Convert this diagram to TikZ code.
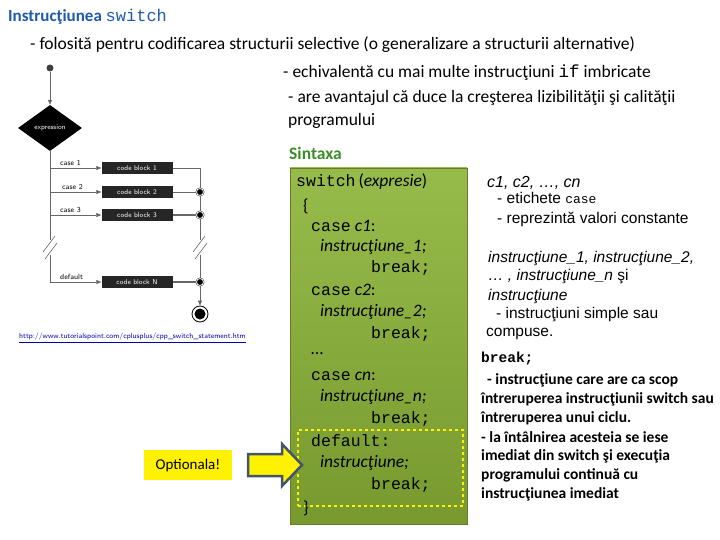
\documentclass[tikz,border=0pt]{standalone}
\usepackage{fontspec}
\setmainfont{Carlito}
\newfontfamily\codef{Liberation Mono}
\newfontfamily\rsans{Liberation Sans}
\usetikzlibrary{shapes.geometric,shapes.arrows,arrows.meta}
\definecolor{titleblue}{RGB}{31,90,170}
\definecolor{sgreen}{RGB}{60,140,40}
\definecolor{olive}{RGB}{140,180,55}
\definecolor{arrowedge}{RGB}{68,84,106}
\begin{document}
\begin{tikzpicture}[x=1pt,y=-1pt,
  txt/.style={anchor=west,inner sep=0pt,font=\fontsize{17.5}{20}\selectfont},
  code/.style={anchor=west,inner sep=0pt,font=\fontsize{17.5}{20}\selectfont},
  rt/.style={anchor=west,inner sep=0pt,font=\rsans\fontsize{15.5}{18}\selectfont},
  bt/.style={anchor=west,inner sep=0pt,font=\bfseries\fontsize{15.5}{18}\selectfont},
  cb/.style={fill=black!85,text=white,minimum width=71pt,minimum height=12pt,inner sep=0pt,font=\sffamily\fontsize{7}{8}\selectfont},
  lab/.style={inner sep=0pt,font=\sffamily\fontsize{7.5}{8}\selectfont,anchor=south west},
  fl/.style={draw=black!60,line width=0.6pt},
  fa/.style={fl,-{Triangle[length=5pt,width=4pt]}},
  jn/.style={circle,fill=black,draw=black,double=white,double distance=0.8pt,minimum size=7pt,inner sep=0pt}]
\useasboundingbox (0,0) rectangle (720,540);
% title
\node[anchor=west,inner sep=0pt,text=titleblue,font=\bfseries\fontsize{17}{20}\selectfont] (title) at (8,17) {Instruc\c{t}iunea {\codef\mdseries switch}};
\node[txt] (l1) at (30,45) {- folosită pentru codificarea structurii selective (o generalizare a structurii alternative)};
\node[txt] (l2) at (283,73) {- echivalentă cu mai multe instrucţiuni {\codef if} imbricate};
\node[txt] (l3) at (288,98) {- are avantajul că duce la creşterea lizibilităţii şi calităţii};
\node[txt] (l4) at (288,121) {programului};
\node[anchor=west,inner sep=0pt,text=sgreen,font=\bfseries\fontsize{17.5}{20}\selectfont] (sin) at (289,153) {Sintaxa};
% flowchart
\node[circle,fill=black!75,minimum size=7pt,inner sep=0pt] (start) at (50,68) {};
\node[diamond,fill=black,text=white,minimum width=64pt,minimum height=46pt,inner sep=0pt,font=\sffamily\fontsize{7}{8}\selectfont] (expr) at (50,128) {expression};
\draw[fa] (start) -- (expr.north);
\node[cb] (b1) at (137,168) {code block 1};
\node[cb] (b2) at (137,192) {code block 2};
\node[cb] (b3) at (137,215) {code block 3};
\node[cb] (bn) at (137,282) {code block N};
\coordinate (v1) at (50,168);\coordinate (v2) at (50,192);\coordinate (v3) at (50,215);\coordinate (vn) at (50,282);
\coordinate (vb1) at (50,240);\coordinate (vb2) at (50,255);
\draw[fl] (expr.south) -- (vb1);
\draw[fl] (vb2) -- (vn);
\draw[fl] (43,252) -- (55,236) (45,259) -- (57,243);
\draw[fa] (v1) -- (b1.west);
\draw[fa] (v2) -- (b2.west);
\draw[fa] (v3) -- (b3.west);
\draw[fa] (vn) -- (bn.west);
\node[lab] at (60,166) {case 1};
\node[lab] at (62,190) {case 2};
\node[lab] at (60,213) {case 3};
\node[lab] at (60,280) {default};
\node[jn] (j2) at (200,192) {};
\node[jn] (j3) at (200,215) {};
\node[jn] (jn) at (200,282) {};
\coordinate (r1) at (200,168);
\coordinate (rb1) at (200,240);\coordinate (rb2) at (200,255);
\draw[fl] (b1.east) -- (r1) -- (j2) -- (j3) -- (rb1);
\draw[fl] (b2.east) -- (j2);
\draw[fl,line width=1.2pt] (b3.east) -- (j3);
\draw[fl,line width=1.2pt] (bn.east) -- (jn);
\draw[fl] (rb2) -- (jn);
\draw[fl] (193,252) -- (205,236) (195,259) -- (207,243);
\node[circle,draw=black,line width=0.8pt,minimum size=16pt,inner sep=0pt] (end) at (200,314) {};
\fill[black] (end.center) circle (5.5pt);
\draw[fa] (jn) -- (end.north);
\node[anchor=west,inner sep=0pt,text=blue!70!black,font=\sffamily\fontsize{7.3}{8}\selectfont] (url) at (19,338) {\underline{http://www.tutorialspoint.com/cplusplus/cpp\_switch\_statement.htm}};
% green box
\shade[top color=olive!90!white,bottom color=olive!85!black,draw=olive!70!black] (290,168) rectangle (467,524);
\node[draw=yellow,dashed,line width=1.5pt,minimum width=165pt,minimum height=76pt,inner sep=0pt] (dflt) at (380.5,468) {};
\node[code] (c1) at (296,182) {{\codef\fontsize{16.5}{20}\selectfont switch}\,(\textit{expresie})};
\node[code] (c2) at (303,206) {\{};
\node[code] (c3) at (311,226) {{\codef\fontsize{16.5}{20}\selectfont case} \textit{c1}:};
\node[code] (c4) at (320,247) {\textit{instrucţiune\_1;}};
\node[code] (c5) at (371,268) {{\codef\fontsize{16.5}{20}\selectfont break;}};
\node[code] (c6) at (311,290) {{\codef\fontsize{16.5}{20}\selectfont case} \textit{c2}:};
\node[code] (c7) at (320,312) {\textit{instrucţiune\_2;}};
\node[code] (c8) at (371,334) {{\codef\fontsize{16.5}{20}\selectfont break;}};
\node[code] (c9) at (311,354) {\ldots};
\node[code] (c10) at (311,376) {{\codef\fontsize{16.5}{20}\selectfont case} \textit{cn}:};
\node[code] (c11) at (320,397) {\textit{instrucţiune\_n;}};
\node[code] (c12) at (371,419) {{\codef\fontsize{16.5}{20}\selectfont break;}};
\node[code] (c13) at (311,441) {{\codef\fontsize{16.5}{20}\selectfont default:}};
\node[code] (c14) at (320,463) {\textit{instrucţiune;}};
\node[code] (c15) at (371,485) {{\codef\fontsize{16.5}{20}\selectfont break;}};
\node[code] (c16) at (303,508) {\}};
% optionala
\node[fill=yellow,minimum width=88pt,minimum height=30pt,inner sep=0pt,font=\fontsize{15}{17}\selectfont] (opt) at (188,465) {Optionala!};
\draw[fill=yellow,draw=arrowedge,line width=2.5pt,line join=miter] (248,454) -- (282,454) -- (282,444) -- (302,465) -- (282,486) -- (282,476) -- (248,476) -- cycle;
% right column
\node[rt,font=\rsans\itshape\fontsize{16}{18}\selectfont] (r1t) at (487,183) {c1, c2, \ldots, cn};
\node[rt] (r2t) at (497,198) {- etichete {\codef\fontsize{13}{15}\selectfont case}};
\node[rt] (r3t) at (497,219) {- reprezintă valori constante};
\node[rt,font=\rsans\itshape\fontsize{15.5}{18}\selectfont] (r4t) at (488,258) {instrucţiune\_1, instrucţiune\_2,};
\node[rt] (r5t) at (488,277) {\textit{\ldots\ , instrucţiune\_n} şi};
\node[rt,font=\rsans\itshape\fontsize{15.5}{18}\selectfont] (r6t) at (488,296) {instrucţiune};
\node[rt] (r7t) at (496,315) {- instrucţiuni simple sau};
\node[rt] (r8t) at (486,334) {compuse.};
\node[anchor=west,inner sep=0pt,font=\codef\bfseries\fontsize{14.5}{16}\selectfont] (r9t) at (481,359) {break;};
\node[bt] (b1t) at (487,380) {- instrucţiune care are ca scop};
\node[bt] (b2t) at (481,399) {întreruperea instrucţiunii switch sau};
\node[bt] (b3t) at (481,418) {întreruperea unui ciclu.};
\node[bt] (b4t) at (481,437) {- la întâlnirea acesteia se iese};
\node[bt] (b5t) at (481,456) {imediat din switch şi execuţia};
\node[bt] (b6t) at (481,475) {programului continuă cu};
\node[bt] (b7t) at (481,494) {instrucţiunea imediat};
\end{tikzpicture}
\end{document}
